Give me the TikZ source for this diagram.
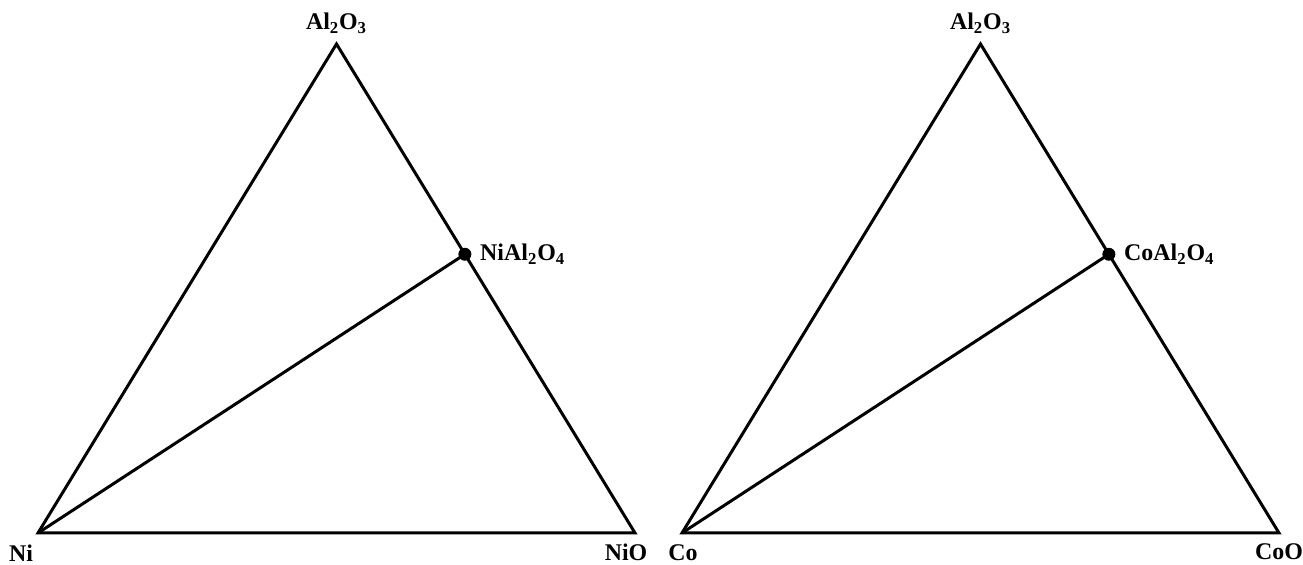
\documentclass[tikz,border=0pt]{standalone}
\usepackage{fontspec}
\setmainfont{Liberation Serif}
\usetikzlibrary{math,calc}

\tikzset{
  edge/.style={line width=1.7pt},
  lbl/.style={font=\fontsize{13.6}{16}\selectfont\bfseries, inner sep=0pt},
}

\begin{document}
\begin{tikzpicture}

\tikzmath{
\W = 11.94; % base
\H = 9.78;  % height
\xo = 0.76;
\yo = 0.64;
\t = 0.43;  % position of spinel on right edge
}

\useasboundingbox (0,0) rectangle (26.06,11.3);

\foreach \m/\sh/\ox in {Ni/0/-0.18, Co/12.88/0}{
  \coordinate (\m-M) at (\xo+\sh,\yo);
  \coordinate (\m-O) at (\xo+\sh+\W,\yo);
  \coordinate (\m-A) at (\xo+\sh+\W/2,\yo+\H);
  \coordinate (\m-S) at ($(\m-A)!\t!(\m-O)$);
  %triangle
  \draw[edge] (\m-M) -- (\m-O) -- (\m-A) -- cycle;
  %tie line
  \draw[edge] (\m-M) -- (\m-S);
  \fill (\m-S) circle(0.13);
  %labels
  \node[lbl, anchor=south] (\m-al) at ($(\m-A)+(0,0.2)$) {Al\textsubscript{2}O\textsubscript{3}};
  \node[lbl, anchor=west] (\m-sp) at ($(\m-S)+(0.3,0.0)$) {\m Al\textsubscript{2}O\textsubscript{4}};
  \node[lbl] (\m-o) at ($(\m-O)+(\ox,-0.38)$) {\m O};
}
\node[lbl] (ni) at ($(Ni-M)+(-0.34,-0.4)$) {Ni};
\node[lbl] (co) at ($(Co-M)+(0.02,-0.4)$) {Co};

\end{tikzpicture}
\end{document}
